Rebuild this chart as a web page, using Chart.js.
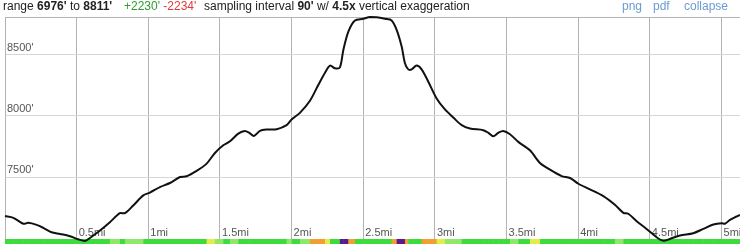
<!DOCTYPE html>
<html>
<head>
<meta charset="utf-8">
<script src="https://cdn.jsdelivr.net/npm/chart.js@4.4.1/dist/chart.umd.min.js"></script>
<style>
  html, body { margin: 0; padding: 0; background: #fff; }
  #wrap { position: relative; width: 740px; height: 244px; overflow: hidden; }
  #profile { position: absolute; left: 0; top: 0; }
  .hd { position: absolute; top: 0; font: 12px "Liberation Sans", Arial, sans-serif; line-height: 12px; color: #222; white-space: pre; }
  .hd b { font-weight: bold; }
  .up { color: #2f9a2f; }
  .down { color: #e03a3a; }
  .lnk { color: #6b9bd0; }
</style>
</head>
<body>
<div id="wrap">
  <canvas id="profile" width="740" height="244"></canvas>
  <div class="hd" style="left:3px">range <b>6976'</b> to <b>8811'</b></div>
  <div class="hd" style="left:124px"><span class="up">+2230'</span> <span class="down">-2234'</span></div>
  <div class="hd" style="left:204px">sampling interval <b>90'</b> w/ <b>4.5x</b> vertical exaggeration</div>
  <div class="hd lnk" style="left:622px">png</div>
  <div class="hd lnk" style="left:653px">pdf</div>
  <div class="hd lnk" style="left:684px">collapse</div>
</div>
<script>
// distance along the route (mi) and elevation (ft)
const distMi = [
  0, 0.058, 0.128, 0.163, 0.221, 0.267, 0.325, 0.384, 0.453, 0.511,
  0.558, 0.593, 0.663, 0.732, 0.802, 0.837, 0.895, 0.965, 1.011, 1.081,
  1.151, 1.221, 1.267, 1.337, 1.407, 1.465, 1.523, 1.570, 1.628, 1.674,
  1.705, 1.737, 1.779, 1.826, 1.896, 1.965, 2.000, 2.058, 2.128, 2.186,
  2.233, 2.268, 2.303, 2.337, 2.361, 2.396, 2.442, 2.500, 2.547, 2.593,
  2.651, 2.698, 2.733, 2.768, 2.791, 2.814, 2.838, 2.872, 2.907, 2.954,
  3.012, 3.070, 3.128, 3.187, 3.245, 3.338, 3.373, 3.407, 3.442, 3.477,
  3.524, 3.582, 3.663, 3.733, 3.803, 3.884, 3.943, 4.001, 4.082, 4.175,
  4.256, 4.315, 4.349, 4.408, 4.477, 4.547, 4.594, 4.640, 4.710, 4.803,
  4.873, 4.943, 5.001, 5.024, 5.059, 5.106, 5.129
];
const elevFt = [
  7180, 7166, 7117, 7125, 7108, 7084, 7048, 7034, 7015, 6990,
  6976, 7001, 7062, 7130, 7204, 7204, 7267, 7350, 7372, 7418,
  7451, 7500, 7506, 7550, 7610, 7697, 7760, 7793, 7856, 7878,
  7862, 7837, 7878, 7889, 7892, 7925, 7971, 8026, 8125, 8254,
  8355, 8413, 8391, 8399, 8541, 8692, 8783, 8796, 8811, 8808,
  8796, 8783, 8706, 8569, 8432, 8382, 8382, 8413, 8382, 8281,
  8144, 8054, 7988, 7925, 7897, 7884, 7862, 7834, 7862, 7878,
  7851, 7788, 7719, 7615, 7560, 7508, 7492, 7445, 7399, 7344,
  7273, 7207, 7199, 7138, 7075, 7007, 6978, 6993, 7021, 7040,
  7075, 7111, 7122, 7117, 7149, 7177, 7190
];
const xTicks = [0.5, 1, 1.5, 2, 2.5, 3, 3.5, 4, 4.5, 5];
const yTicks = [7500, 8000, 8500];
const yMin = 6976, yMax = 8811;
const xMax = 5.129;

// slope colour for the strip under the profile
function gradeColor(g) {
  g = Math.abs(g);
  if (g < 0.2) return '#3ddc3d';
  if (g < 0.28) return '#8fe86a';
  if (g < 0.36) return '#e2ec4a';
  if (g < 0.45) return '#f0a030';
  if (g < 0.6) return '#e0402a';
  return '#5a1a8a';
}

const gradeStrip = {
  id: 'gradeStrip',
  beforeDatasetsDraw(chart) {
    const ctx = chart.ctx;
    const xs = chart.scales.x;
    const bottom = chart.height;
    ctx.save();
    for (let i = 0; i < distMi.length - 1; i++) {
      const x0 = xs.getPixelForValue(distMi[i]);
      const x1 = xs.getPixelForValue(distMi[i + 1]);
      const g = (elevFt[i + 1] - elevFt[i]) / ((distMi[i + 1] - distMi[i]) * 5280);
      ctx.fillStyle = gradeColor(g);
      ctx.fillRect(x0, bottom - 5, x1 - x0 + 0.5, 5);
    }
    ctx.restore();
  }
};

const labelFont = { family: '"Liberation Sans", Arial, sans-serif', size: 11 };

function flatten(axis, horizontal) {
  if (horizontal) axis.height = 0; else axis.width = 0;
  axis.paddingTop = 0;
  axis.paddingBottom = 0;
  axis.paddingLeft = 0;
  axis.paddingRight = 0;
}

new Chart(document.getElementById('profile'), {
  type: 'line',
  data: {
    datasets: [{
      data: distMi.map((d, i) => ({ x: d, y: elevFt[i] })),
      borderColor: '#111',
      borderWidth: 2,
      pointRadius: 0,
      tension: 0.3,
      fill: false,
      clip: false
    }]
  },
  options: {
    responsive: false,
    animation: false,
    layout: { padding: { left: 5, top: 17, right: 0, bottom: 3 } },
    plugins: { legend: { display: false }, tooltip: { enabled: false } },
    scales: {
      x: {
        type: 'linear',
        min: 0,
        max: xMax,
        afterBuildTicks: (axis) => { axis.ticks = xTicks.map(v => ({ value: v })); },
        afterFit: (axis) => flatten(axis, true),
        grid: { color: '#b4b4b4', drawTicks: false },
        border: { display: false },
        ticks: {
          mirror: true,
          align: 'start',
          padding: 1,
          labelOffset: 2,
          color: '#555',
          font: labelFont,
          callback: (v) => v + 'mi'
        }
      },
      y: {
        min: yMin,
        max: yMax,
        afterBuildTicks: (axis) => { axis.ticks = yTicks.concat([yMax]).map(v => ({ value: v })); },
        afterFit: (axis) => flatten(axis, false),
        grid: {
          color: (c) => (c.tick && c.tick.value === yMax ? '#b4b4b4' : '#d6d6d6'),
          drawTicks: false
        },
        border: { display: true, color: '#b4b4b4' },
        ticks: {
          mirror: true,
          padding: 2,
          labelOffset: -7,
          color: '#555',
          font: labelFont,
          callback: (v) => (v === yMax ? '' : v + "'")
        }
      }
    }
  },
  plugins: [gradeStrip]
});
</script>
</body>
</html>
